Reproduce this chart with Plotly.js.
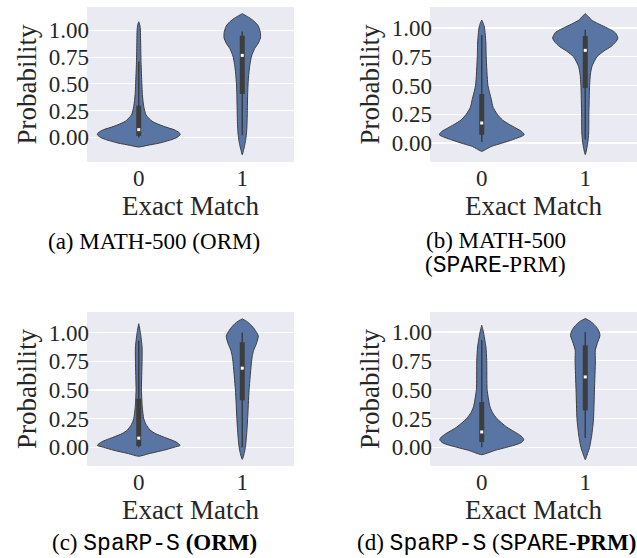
<!DOCTYPE html>
<html>
<head>
<meta charset="utf-8">
<script src="https://cdn.plot.ly/plotly-3.0.1.min.js"></script>
<style>html,body{margin:0;padding:0;background:#fff;}#chart{width:637px;height:558px;}</style>
</head>
<body>
<div id="chart"></div>
<script>
// ---- Data ----
const categories = [0, 1];
const xTickLabels = ['0', '1'];
const yTickVals = [0, 0.25, 0.5, 0.75, 1.0];
const yTickLabels = ['0.00', '0.25', '0.50', '0.75', '1.00'];

// Violin density profiles: probability levels and half-widths (category units)
// (a) MATH-500 (ORM)
const a0_y = [-0.09, -0.075, -0.053, -0.02, 0.0, 0.025, 0.045, 0.072, 0.103, 0.15, 0.21, 0.29, 0.4, 0.5, 0.7, 0.9, 1.0, 1.05, 1.08];
const a0_w = [0, 0.08, 0.2, 0.32, 0.37, 0.40, 0.39, 0.34, 0.24, 0.13, 0.07, 0.048, 0.035, 0.03, 0.022, 0.018, 0.016, 0.01, 0];
const a1_y = [-0.162, -0.12, -0.08, -0.03, 0.03, 0.1, 0.2, 0.3, 0.4, 0.5, 0.6, 0.68, 0.76, 0.83, 0.88, 0.93, 0.98, 1.04, 1.08, 1.12, 1.156];
const a1_w = [0, 0.012, 0.022, 0.032, 0.04, 0.045, 0.048, 0.05, 0.052, 0.056, 0.064, 0.074, 0.09, 0.12, 0.155, 0.176, 0.175, 0.155, 0.12, 0.065, 0];
// (b) MATH-500 (SPARE-PRM)
const b0_y = [-0.072, -0.05, -0.03, 0.0, 0.03, 0.072, 0.1, 0.13, 0.16, 0.2, 0.25, 0.31, 0.38, 0.5, 0.75, 0.87, 0.95, 1.0, 1.04, 1.07];
const b0_w = [0, 0.05, 0.09, 0.2, 0.3, 0.41, 0.387, 0.33, 0.27, 0.2, 0.15, 0.11, 0.092, 0.06, 0.043, 0.04, 0.033, 0.027, 0.015, 0];
const b1_y = [-0.1, -0.06, 0.0, 0.087, 0.25, 0.5, 0.6, 0.667, 0.75, 0.8, 0.84, 0.88, 0.913, 0.96, 1.01, 1.04, 1.07, 1.1, 1.125];
const b1_w = [0, 0.012, 0.024, 0.033, 0.035, 0.042, 0.05, 0.065, 0.113, 0.18, 0.25, 0.295, 0.315, 0.29, 0.19, 0.12, 0.06, 0.03, 0];
// (c) SpaRP-S (ORM)
const c0_y = [-0.078, -0.055, -0.026, 0.0, 0.017, 0.047, 0.09, 0.12, 0.15, 0.2, 0.25, 0.35, 0.5, 0.75, 0.875, 1.0, 1.04, 1.078];
const c0_w = [0, 0.1, 0.24, 0.34, 0.40, 0.36, 0.24, 0.16, 0.11, 0.07, 0.048, 0.034, 0.026, 0.032, 0.032, 0.016, 0.008, 0];
const c1_y = [-0.105, -0.055, 0.0, 0.12, 0.25, 0.5, 0.75, 0.8, 0.846, 0.9, 0.97, 1.0, 1.04, 1.078, 1.1, 1.12];
const c1_w = [0, 0.018, 0.03, 0.043, 0.052, 0.066, 0.09, 0.098, 0.11, 0.135, 0.155, 0.14, 0.11, 0.072, 0.04, 0];
// (d) SpaRP-S (SPARE-PRM)
const d0_y = [-0.064, -0.045, -0.026, 0.0, 0.017, 0.04, 0.066, 0.09, 0.118, 0.176, 0.25, 0.3, 0.35, 0.5, 0.75, 0.87, 1.0, 1.03, 1.058];
const d0_w = [0, 0.07, 0.13, 0.24, 0.31, 0.38, 0.406, 0.39, 0.347, 0.24, 0.145, 0.105, 0.08, 0.052, 0.048, 0.04, 0.016, 0.008, 0];
const d1_y = [-0.107, -0.08, -0.055, 0.0, 0.118, 0.25, 0.5, 0.75, 0.84, 0.9, 0.97, 1.0, 1.04, 1.07, 1.095, 1.116];
const d1_w = [0, 0.012, 0.022, 0.042, 0.065, 0.08, 0.089, 0.098, 0.097, 0.116, 0.142, 0.135, 0.11, 0.08, 0.045, 0];

// Inner box statistics: [whisker low, q1, median, q3, whisker high]
const a0_box = [0.0, 0.015, 0.072, 0.296, 0.71];
const a1_box = [0.02, 0.405, 0.766, 0.95, 0.99];
const b0_box = [0.01, 0.072, 0.174, 0.426, 0.94];
const b1_box = [0.03, 0.478, 0.806, 0.93, 0.985];
const c0_box = [0.0, 0.01, 0.08, 0.424, 0.93];
const c1_box = [0.0, 0.409, 0.69, 0.916, 1.0];
const d0_box = [0.0, 0.046, 0.133, 0.393, 0.93];
const d1_box = [0.08, 0.32, 0.61, 0.884, 1.0];

// ---- Styles ----
const violinFill = '#5975a4';
const edgeColor = '#3d3d3d';
const boxColor = '#3d3d3d';
const serif = 'Liberation Serif';
const mono = 'Liberation Mono';
const W = 637, H = 558;
const px = x => x / W;
const py = y => 1 - y / H;

const traces = [];
function addViolin(cat, ys, ws, box, axn) {
  const xa = axn === 1 ? 'x' : 'x' + axn;
  const ya = axn === 1 ? 'y' : 'y' + axn;
  const xs = [], yy = [];
  for (let i = 0; i < ys.length; i++) { xs.push(cat + ws[i]); yy.push(ys[i]); }
  for (let i = ys.length - 1; i >= 0; i--) { xs.push(cat - ws[i]); yy.push(ys[i]); }
  traces.push({type: 'scatter', mode: 'lines', x: xs, y: yy, xaxis: xa, yaxis: ya,
    fill: 'toself', fillcolor: violinFill, line: {color: edgeColor, width: 1, shape: 'spline', smoothing: 0.6},
    hoverinfo: 'skip'});
  traces.push({type: 'scatter', mode: 'lines', x: [cat, cat], y: [box[0], box[4]], xaxis: xa, yaxis: ya,
    line: {color: boxColor, width: 1.5}, hoverinfo: 'skip'});
  traces.push({type: 'scatter', mode: 'lines', x: [cat, cat], y: [box[1], box[3]], xaxis: xa, yaxis: ya,
    line: {color: boxColor, width: 5}, hoverinfo: 'skip'});
  traces.push({type: 'scatter', mode: 'markers', x: [cat], y: [box[2]], xaxis: xa, yaxis: ya,
    marker: {symbol: 'square', size: 3, color: '#ffffff', line: {width: 0}}, hoverinfo: 'skip'});
}
addViolin(categories[0], a0_y, a0_w, a0_box, 1);
addViolin(categories[1], a1_y, a1_w, a1_box, 1);
addViolin(categories[0], b0_y, b0_w, b0_box, 2);
addViolin(categories[1], b1_y, b1_w, b1_box, 2);
addViolin(categories[0], c0_y, c0_w, c0_box, 3);
addViolin(categories[1], c1_y, c1_w, c1_box, 3);
addViolin(categories[0], d0_y, d0_w, d0_box, 4);
addViolin(categories[1], d1_y, d1_w, d1_box, 4);

function xAxis(dom, anchor) {
  return {domain: dom, anchor: anchor, range: [-0.5, 1.5], tickvals: categories, ticktext: xTickLabels,
    showgrid: false, zeroline: false, showline: false, ticks: '', fixedrange: true,
    tickfont: {family: serif, size: 23, color: '#262626'}, ticklabelstandoff: 0,
    title: {text: 'Exact Match', font: {family: serif, size: 27, color: '#262626'}, standoff: 0}};
}
function yAxis(dom, anchor, range) {
  return {domain: dom, anchor: anchor, range: range, tickvals: yTickVals, ticktext: yTickLabels,
    showgrid: true, gridcolor: '#ffffff', gridwidth: 1.2, zeroline: false, showline: false, ticks: '',
    fixedrange: true, tickfont: {family: serif, size: 23, color: '#262626'}, ticklabelstandoff: -3,
    title: {text: 'Probability', font: {family: serif, size: 27, color: '#262626'}, standoff: 4}};
}

const layout = {
  width: W, height: H, margin: {l: 0, r: 0, t: 0, b: 0}, showlegend: false,
  paper_bgcolor: '#ffffff', plot_bgcolor: '#eaeaf2',
  xaxis: xAxis([px(87), px(294)], 'y'),
  yaxis: yAxis([py(162), py(7)], 'x', [-0.23, 1.218]),
  xaxis2: xAxis([px(430), 1], 'y2'),
  yaxis2: yAxis([py(162), py(7)], 'x2', [-0.165, 1.183]),
  xaxis3: xAxis([px(87), px(294)], 'y3'),
  yaxis3: yAxis([py(466), py(312)], 'x3', [-0.163, 1.18]),
  xaxis4: xAxis([px(430), 1], 'y4'),
  yaxis4: yAxis([py(466), py(312)], 'x4', [-0.162, 1.173]),
  annotations: [
    {text: '(a) MATH-500 (ORM)', x: px(154), y: py(241), xref: 'paper', yref: 'paper',
      xanchor: 'center', yanchor: 'middle', showarrow: false, font: {family: serif, size: 23, color: '#000'}},
    {text: '(b) MATH-500', x: px(568), y: py(240), xref: 'paper', yref: 'paper',
      xanchor: 'right', yanchor: 'middle', showarrow: false, font: {family: serif, size: 23, color: '#000'}},
    {text: '(<span style="font-family:' + mono + '">SPARE</span>-PRM)', x: px(568), y: py(266), xref: 'paper', yref: 'paper',
      xanchor: 'right', yanchor: 'middle', showarrow: false, font: {family: serif, size: 23, color: '#000'}},
    {text: '(c) <span style="font-family:' + mono + '">SpaRP-S</span> <b>(ORM)</b>', x: px(50), y: py(543), xref: 'paper', yref: 'paper',
      xanchor: 'left', yanchor: 'middle', showarrow: false, font: {family: serif, size: 23, color: '#000'}},
    {text: '(d) <span style="font-family:' + mono + '">SpaRP-S</span> (<span style="font-family:' + mono + '">SPARE</span><b>-PRM)</b>', x: px(355), y: py(543), xref: 'paper', yref: 'paper',
      xanchor: 'left', yanchor: 'middle', showarrow: false, font: {family: serif, size: 23, color: '#000'}}
  ]
};

Plotly.newPlot('chart', traces, layout, {staticPlot: true, displayModeBar: false});
</script>
</body>
</html>
